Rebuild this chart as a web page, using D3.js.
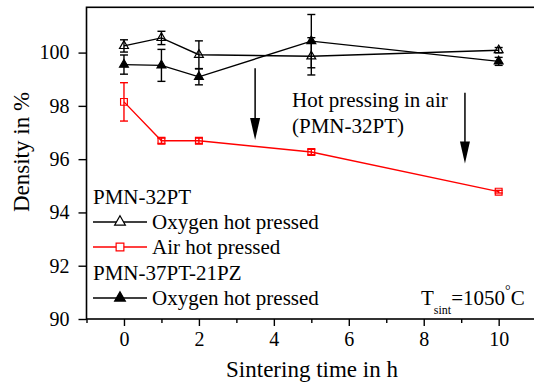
<!DOCTYPE html>
<html lang="en">
<head>
<meta charset="UTF-8">
<title>Density vs sintering time</title>
<script src="https://d3js.org/d3.v7.min.js"></script>
<style>
  @font-face { font-family: "ChartSerif"; src: local("Liberation Serif"), local("LiberationSerif"); }
  body { margin: 0; }
</style>
</head>
<body>
<svg id="canvas" width="534" height="387"></svg>
<script>
// sintering times (h)
const times = [0, 1, 2, 5, 10];
// PMN-32PT, oxygen hot pressed
const pmn32Oxy = [100.25, 100.55, 99.92, 99.86, 100.09];
const pmn32OxyErr = [0.23, 0.25, 0.52, 0.7, 0.1];
// PMN-32PT, air hot pressed
const pmn32Air = [98.15, 96.69, 96.69, 96.27, 94.78];
const pmn32AirErr = [0.72, 0.1, 0.1, 0.1, 0.05];
// PMN-37PT-21PZ, oxygen hot pressed
const pmn37Oxy = [99.55, 99.52, 99.09, 100.43, 99.67];
const pmn37OxyErr = [0.36, 0.6, 0.3, 1.0, 0.15];
// arrows: [time, from, to]
const arrows = [[3.5, 99.41, 96.72], [9.1, 98.49, 95.84]];
const xMajor = [0, 2, 4, 6, 8, 10];
const xMinor = [-1, 1, 3, 5, 7, 9, 11];
const yMajor = [90, 92, 94, 96, 98, 100];

const FONT = "'Liberation Serif', ChartSerif, 'Times New Roman', Tinos, serif";
const svg = d3.select("#canvas");
const x = d3.scaleLinear().domain([-1, 11.5]).range([86.5, 86.5 + 12.5 * 37.47]);
const y = d3.scaleLinear().domain([90, 101.7]).range([319, 7.3]);

function txt(sel, size) {
  return sel.attr("font-family", FONT).style("font-family", FONT).style("font-size", size + "px");
}

// axes
svg.append("g").attr("transform", "translate(0," + y(90) + ")")
  .call(d3.axisBottom(x).tickValues(xMajor).tickSize(7).tickPadding(6).tickFormat(d3.format("d")))
  .attr("font-family", FONT)
  .call(g => g.select(".domain").remove())
  .call(g => g.selectAll("line").attr("stroke-width", 1.4))
  .call(g => txt(g.selectAll("text"), 20));
svg.append("g").attr("transform", "translate(0," + y(90) + ")")
  .call(d3.axisBottom(x).tickValues(xMinor).tickSize(4).tickFormat(""))
  .call(g => g.select(".domain").remove())
  .call(g => g.selectAll("line").attr("stroke-width", 1.4));
svg.append("g").attr("transform", "translate(" + x(-1) + ",0)")
  .call(d3.axisLeft(y).tickValues(yMajor).tickSize(8).tickPadding(9).tickFormat(d3.format("d")))
  .attr("font-family", FONT)
  .call(g => g.select(".domain").remove())
  .call(g => g.selectAll("line").attr("stroke-width", 1.4))
  .call(g => txt(g.selectAll("text"), 20));

// frame
svg.append("rect")
  .attr("x", x(-1)).attr("y", y(101.7))
  .attr("width", x(11.5) - x(-1)).attr("height", y(90) - y(101.7))
  .attr("fill", "none").attr("stroke", "black").attr("stroke-width", 1.6);

txt(svg.append("text"), 23).attr("x", 312).attr("y", 377).attr("text-anchor", "middle")
  .text("Sintering time in h");
txt(svg.append("text"), 23).attr("transform", "translate(29,152) rotate(-90)")
  .attr("text-anchor", "middle").text("Density in %");

const tri = s => d3.symbol().type(d3.symbolTriangle).size(s)();
const sq = s => d3.symbol().type(d3.symbolSquare).size(s)();

function series(vals, errs, color, path, fill) {
  const pts = times.map((t, i) => ({ t, v: vals[i], e: errs[i] }));
  const g = svg.append("g");
  g.append("path").datum(pts)
    .attr("d", d3.line().x(d => x(d.t)).y(d => y(d.v)))
    .attr("fill", "none").attr("stroke", color).attr("stroke-width", 1.4);
  const eb = g.selectAll(".eb").data(pts).enter().append("g");
  eb.append("line").attr("x1", d => x(d.t)).attr("x2", d => x(d.t))
    .attr("y1", d => y(d.v + d.e)).attr("y2", d => y(d.v - d.e))
    .attr("stroke", color).attr("stroke-width", 1.4);
  [1, -1].forEach(s => {
    eb.append("line").attr("x1", d => x(d.t) - 4).attr("x2", d => x(d.t) + 4)
      .attr("y1", d => y(d.v + s * d.e)).attr("y2", d => y(d.v + s * d.e))
      .attr("stroke", color).attr("stroke-width", 1.4);
  });
  g.selectAll(".m").data(pts).enter().append("path")
    .attr("d", path).attr("transform", d => "translate(" + x(d.t) + "," + y(d.v) + ")")
    .attr("fill", fill).attr("stroke", color).attr("stroke-width", 1.2);
}
series(pmn32Oxy, pmn32OxyErr, "black", tri(34), "none");
series(pmn37Oxy, pmn37OxyErr, "black", tri(34), "black");
series(pmn32Air, pmn32AirErr, "#ff0000", sq(46), "none");

// arrows: shaft plus filled head
const arrowG = svg.selectAll(".arrow").data(arrows).enter().append("g");
arrowG.append("line")
  .attr("x1", d => x(d[0])).attr("x2", d => x(d[0]))
  .attr("y1", d => y(d[1])).attr("y2", d => y(d[2]) - 10)
  .attr("stroke", "black").attr("stroke-width", 1.5);
arrowG.append("path")
  .attr("d", d => "M" + (x(d[0]) - 5) + "," + (y(d[2]) - 22) + "L" + (x(d[0]) + 5) + "," + (y(d[2]) - 22) +
    "L" + x(d[0]) + "," + y(d[2]) + "Z")
  .attr("fill", "black");

txt(svg.append("text"), 21).attr("x", 292).attr("y", 107).text("Hot pressing in air");
txt(svg.append("text"), 21).attr("x", 292).attr("y", 133).text("(PMN-32PT)");

// legend
const lg = svg.append("g");
txt(lg.append("text"), 21).attr("x", 93).attr("y", 204).text("PMN-32PT");
txt(lg.append("text"), 21).attr("x", 93).attr("y", 280).text("PMN-37PT-21PZ");
const items = [
  { y: 222, label: "Oxygen hot pressed", color: "black", sym: tri(50), fill: "white" },
  { y: 247, label: "Air hot pressed", color: "#ff0000", sym: sq(60), fill: "white" },
  { y: 298, label: "Oxygen hot pressed", color: "black", sym: tri(50), fill: "black" }
];
items.forEach(it => {
  lg.append("line").attr("x1", 93).attr("x2", 147).attr("y1", it.y).attr("y2", it.y)
    .attr("stroke", it.color).attr("stroke-width", 1.4);
  lg.append("path").attr("d", it.sym)
    .attr("transform", "translate(120," + it.y + ")")
    .attr("fill", it.fill).attr("stroke", it.color).attr("stroke-width", 1.2);
  txt(lg.append("text"), 21).attr("x", 152).attr("y", it.y + 7).text(it.label);
});

const ts = txt(svg.append("text"), 21).attr("x", 421).attr("y", 305);
ts.append("tspan").text("T");
ts.append("tspan").attr("dy", 9).style("font-size", "12px").text("sint");
ts.append("tspan").attr("dy", -9).text("=1050");
ts.append("tspan").attr("dy", -10).style("font-size", "14px").text("°");
ts.append("tspan").attr("dy", 10).text("C");
</script>
</body>
</html>
